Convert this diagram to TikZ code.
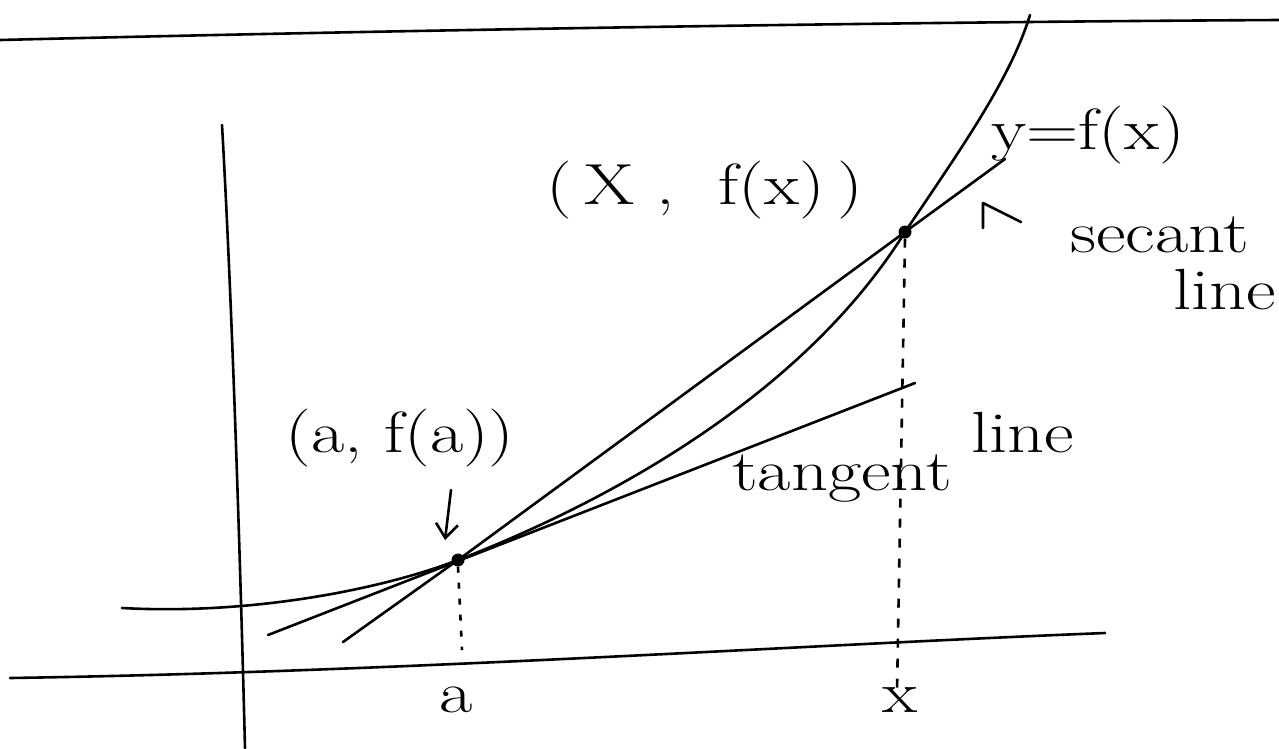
\documentclass[tikz,border=0pt]{standalone}
\usetikzlibrary{arrows.meta}
\begin{document}
\begin{tikzpicture}[x=1pt,y=-1pt,
  pen/.style={line width=2.6pt,line cap=round,line join=round,black},
  guide/.style={line width=2.6pt,dash pattern=on 9pt off 11pt,black},
  lbl/.style={font=\fontsize{58}{62}\selectfont,inner sep=0pt,xscale=1.25},
  dotmark/.style={circle,fill=black,minimum size=13pt,inner sep=0pt}]
\useasboundingbox (0,0) rectangle (1279,748);
\fill[white] (0,0) rectangle (1279,748);
% frame line at top
\coordinate (t1) at (0,40); \coordinate (t2) at (1279,20);
\draw[pen] (t1) .. controls (400,30) and (900,22) .. (t2);
% axes
\coordinate (ya) at (222,125); \coordinate (yb) at (245,748);
\draw[pen] (ya) .. controls (232,300) and (240,550) .. (yb);
\coordinate (xa) at (10,678); \coordinate (xb) at (1105,633);
\draw[pen] (xa) .. controls (400,672) and (800,645) .. (xb);
% points
\node[dotmark] (A) at (458,560) {};
\node[dotmark] (X) at (905,232) {};
% curve
\coordinate (c0) at (122,608);
\coordinate (c3) at (1030,15);
\draw[pen] (c0) .. controls (250,615) and (380,590) .. (A.center)
  .. controls (600,505) and (800,400) .. (X.center)
  .. controls (960,150) and (1010,80) .. (c3);
% secant line
\coordinate (s0) at (343,642); \coordinate (s1) at (1005,159);
\draw[pen] (s0) -- (A.center) -- (X.center) -- (s1);
% tangent line
\coordinate (g0) at (268,635); \coordinate (g1) at (915,383);
\draw[pen] (g0) -- (g1);
% vertical guides
\coordinate (ga) at (462,650); \coordinate (gx) at (897,692);
\draw[guide,dash pattern=on 6pt off 10pt] (A.south) -- (ga);
\draw[guide] (X.south) -- (gx);
% labels
\node[lbl] (la) at (400,438) {(a, f(a))};
\coordinate (arrA) at (445,540);
\draw[pen,-{Straight Barb[length=14pt,width=22pt]}] (451,490) -- (arrA);
\node[lbl] (lx) at (705,190) {(\,X ,\ \ f(x)\,)};
\node[lbl] (ly) at (1088,135) {y=f(x)};
\coordinate (h0) at (983,228); \coordinate (h1) at (983,203); \coordinate (h2) at (1021,222);
\draw[pen] (h0) -- (h1) -- (h2);
\node[lbl] (ls) at (1160,235) {secant};
\node[lbl,anchor=east] (ll) at (1276,290) {line};
\node[lbl,anchor=base] (lt) at (842,490) {tangent};
\node[lbl,anchor=base] (lt2) at (1023,452) {line};
\node[lbl] (lA) at (456,700) {a};
\node[lbl] (lX) at (900,700) {x};
\end{tikzpicture}
\end{document}
